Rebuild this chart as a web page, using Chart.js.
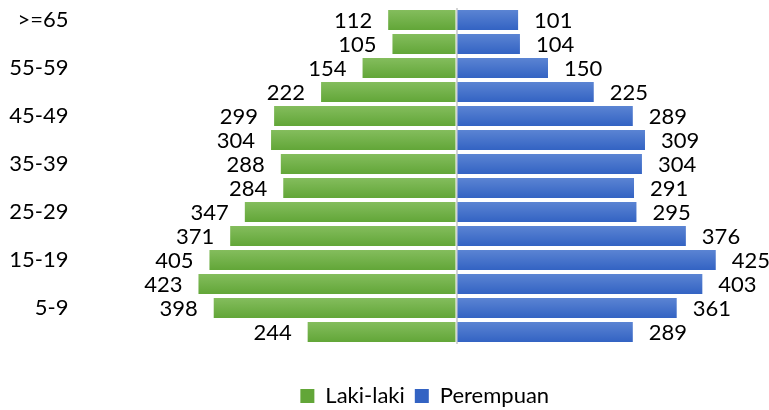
<!DOCTYPE html>
<html>
<head>
<meta charset="utf-8">
<script src="https://cdn.jsdelivr.net/npm/chart.js@4"></script>
<style>
  html, body { margin: 0; padding: 0; background: #fff; }
  #wrap { width: 769px; height: 410px; }
</style>
</head>
<body>
<div id="wrap"><canvas id="pyramid"></canvas></div>
<script>
const ageGroups = [">=65", "60-64", "55-59", "50-54", "45-49", "40-44", "35-39",
  "30-34", "25-29", "20-24", "15-19", "10-14", "5-9", "0-4"];
const lakiLaki = [112, 105, 154, 222, 299, 304, 288, 284, 347, 371, 405, 423, 398, 244];
const perempuan = [101, 104, 150, 225, 289, 309, 304, 291, 295, 376, 425, 403, 361, 289];

const FONT = "Lato, 'Open Sans', sans-serif";

// light-to-dark vertical gradient on each bar, like the office style
function barFill(top, bottom, solid) {
  return (c) => {
    const ys = c.chart.scales.y;
    if (!ys || c.dataIndex === undefined) return solid;
    const yc = ys.getPixelForValue(c.dataIndex);
    if (!Number.isFinite(yc)) return solid;
    const g = c.chart.ctx.createLinearGradient(0, yc - 10, 0, yc + 10);
    g.addColorStop(0, top);
    g.addColorStop(1, bottom);
    return g;
  };
}

// value labels outside the bar ends
const valueLabels = {
  id: "valueLabels",
  afterDatasetsDraw(chart) {
    const ctx = chart.ctx;
    ctx.save();
    ctx.font = "22px " + FONT;
    ctx.fillStyle = "#000";
    ctx.textBaseline = "middle";
    chart.data.datasets.forEach((ds, i) => {
      chart.getDatasetMeta(i).data.forEach((bar, j) => {
        const v = ds.data[j];
        const neg = v < 0;
        ctx.textAlign = neg ? "right" : "left";
        ctx.fillText(String(Math.abs(v)), bar.x + (neg ? -16 : 16), bar.y + 1);
      });
    });
    ctx.restore();
  },
};

// move the legend to where the original puts it
const legendShift = {
  id: "legendShift",
  afterLayout(chart) {
    const lg = chart.legend;
    lg.left += 44;
    lg.right += 44;
    lg.top += 31;
    lg.bottom += 31;
  },
};

new Chart(document.getElementById("pyramid"), {
  type: "bar",
  data: {
    labels: ageGroups,
    datasets: [
      {
        label: "Laki-laki",
        data: lakiLaki.map((v) => -v),
        backgroundColor: barFill("#84bd5d", "#62a638", "#70ad47"),
        barPercentage: 0.833,
        categoryPercentage: 1,
      },
      {
        label: "Perempuan",
        data: perempuan,
        backgroundColor: barFill("#5b84d3", "#3363c3", "#4472c4"),
        barPercentage: 0.833,
        categoryPercentage: 1,
      },
    ],
  },
  options: {
    indexAxis: "y",
    responsive: true,
    maintainAspectRatio: false,
    animation: false,
    layout: { padding: { left: 0, right: 7.5, top: 8, bottom: 24 } },
    scales: {
      x: {
        stacked: true,
        min: -500,
        max: 500,
        z: 1,
        ticks: { display: false },
        border: { display: false },
        grid: {
          drawTicks: false,
          lineWidth: 2,
          color: (c) => (c.tick && c.tick.value === 0 ? "#d4d4d4" : "rgba(0,0,0,0)"),
        },
        afterFit(scale) { scale.height = 0; },
      },
      y: {
        stacked: true,
        border: { display: false },
        grid: { display: false, drawTicks: false },
        ticks: {
          autoSkip: false,
          color: "#000",
          padding: 83,
          font: { family: FONT, size: 22 },
          callback: (v, i) => (i % 2 === 0 ? ageGroups[i] : ""),
        },
        afterFit(scale) {
          scale.width = 151.5;
          scale.paddingTop = 0;
          scale.paddingBottom = 0;
        },
      },
    },
    plugins: {
      tooltip: { enabled: false },
      legend: {
        position: "bottom",
        labels: {
          color: "#000",
          boxWidth: 14,
          boxHeight: 14,
          padding: 10,
          font: { family: FONT, size: 22 },
        },
      },
    },
  },
  plugins: [valueLabels, legendShift],
});
</script>
</body>
</html>
